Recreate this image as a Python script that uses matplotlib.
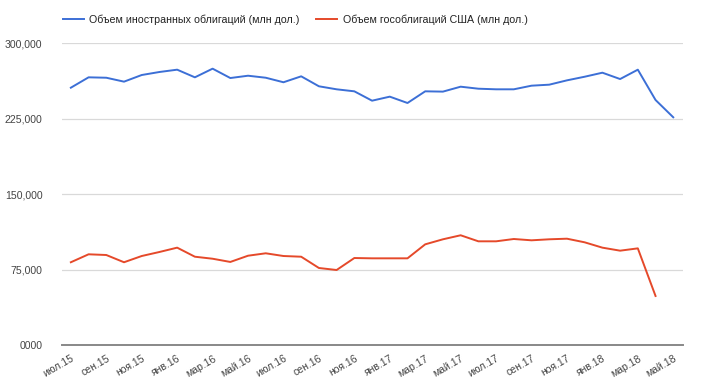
import matplotlib
matplotlib.use("Agg")
import matplotlib.pyplot as plt

plt.rcParams['font.family'] = ['Liberation Sans', 'DejaVu Sans']

months = ["июл.15", "авг.15", "сен.15", "окт.15", "ноя.15", "дек.15",
          "янв.16", "фев.16", "мар.16", "апр.16", "май.16", "июн.16",
          "июл.16", "авг.16", "сен.16", "окт.16", "ноя.16", "дек.16",
          "янв.17", "фев.17", "мар.17", "апр.17", "май.17", "июн.17",
          "июл.17", "авг.17", "сен.17", "окт.17", "ноя.17", "дек.17",
          "янв.18", "фев.18", "мар.18", "апр.18", "май.18"]

foreign_bonds = [255600, 265900, 265500, 261600, 268200, 271200, 273500, 265900,
                 274500, 265200, 267500, 265500, 261000, 266900, 257000, 254000,
                 252000, 242700, 246700, 240400, 252000, 251700, 256600, 254600,
                 254000, 254000, 257600, 258600, 262900, 266500, 270500, 264200,
                 273500, 243400, 226200]

us_treasuries = [82200, 90100, 89400, 82200, 88400, 92400, 96700, 87700,
                 85700, 82500, 88700, 91100, 88400, 87700, 76500, 74500,
                 86400, 86100, 86100, 86100, 100000, 105000, 109000, 103000,
                 103000, 105300, 104000, 105000, 105600, 102000, 96700, 93700,
                 96000, 48700]

y_ticks = [0, 75000, 150000, 225000, 300000]
y_tick_labels = ["0000", "75,000", "150,000", "225,000", "300,000"]

label_foreign = "Объем иностранных облигаций (млн дол.)"
label_us = "Объем гособлигаций США (млн дол.)"

fig = plt.figure(figsize=(7.12, 3.92), dpi=100)
ax = fig.add_axes([62/712, 47/392, (683-62)/712, (345-43)/392])

x1 = list(range(len(foreign_bonds)))
x2 = list(range(len(us_treasuries)))
l1, = ax.plot(x1, foreign_bonds, color="#3c6fd6", lw=1.4, label=label_foreign)
l2, = ax.plot(x2, us_treasuries, color="#e5492a", lw=1.4, label=label_us)

ax.set_ylim(0, 300000)
ax.set_xlim(-0.5, 34.55)
ax.set_yticks(y_ticks)
ax.set_yticklabels(y_tick_labels)
ax.tick_params(axis='y', length=0, pad=14, labelsize=7.6, labelcolor="#444444")
ax.grid(axis='y', color="#d9d9d9", lw=0.9)
ax.set_axisbelow(True)

xt = list(range(0, len(months), 2))
ax.set_xticks(xt)
ax.set_xticklabels([months[i] for i in xt], rotation=30, ha='right',
                   rotation_mode='anchor', fontsize=7.5, color="#444444")
ax.tick_params(axis='x', length=0, pad=6)

for s in ['top', 'right', 'left']:
    ax.spines[s].set_visible(False)
ax.spines['bottom'].set_color("#888888")
ax.spines['bottom'].set_linewidth(1.4)

fig.legend(handles=[l1, l2], loc='center left', bbox_to_anchor=(53/712, 1 - 20/392),
           ncol=2, frameon=False, fontsize=7.7, handlelength=2.0,
           columnspacing=1.5, handletextpad=0.5, labelcolor="#222222")

fig.savefig("out.png", dpi=100)
